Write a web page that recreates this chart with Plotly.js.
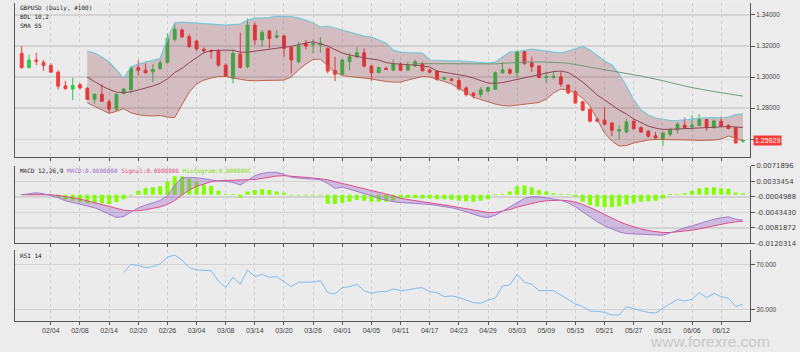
<!DOCTYPE html>
<html>
<head>
<meta charset="utf-8">
<script src="https://cdn.plot.ly/plotly-3.0.1.min.js"></script>
<style>
html,body{margin:0;padding:0;background:#ececec;}
#chart{width:800px;height:352px;}
</style>
</head>
<body>
<div id="chart"></div>
<script>
const dates = ['01/29','01/30','01/31','02/01','02/04','02/05','02/06','02/07','02/08','02/11','02/12','02/13','02/14','02/15','02/18','02/19','02/20','02/21','02/22','02/25','02/26','02/27','02/28','03/01','03/04','03/05','03/06','03/07','03/08','03/11','03/12','03/13','03/14','03/15','03/18','03/19','03/20','03/21','03/22','03/25','03/26','03/27','03/28','03/29','04/01','04/02','04/03','04/04','04/05','04/08','04/09','04/10','04/11','04/12','04/15','04/16','04/17','04/18','04/19','04/22','04/23','04/24','04/25','04/26','04/29','04/30','05/01','05/02','05/03','05/06','05/07','05/08','05/09','05/10','05/13','05/14','05/15','05/16','05/17','05/20','05/21','05/22','05/23','05/24','05/27','05/28','05/29','05/30','05/31','06/03','06/04','06/05','06/06','06/07','06/10','06/11','06/12','06/13','06/14','06/17'];

const tickDates = ['02/04','02/08','02/14','02/20','02/26','03/04','03/08','03/14','03/20','03/26','04/01','04/05','04/11','04/17','04/23','04/29','05/03','05/09','05/15','05/21','05/27','05/31','06/06','06/12'];

const openP = [1.3153,1.3062,1.3110,1.3095,1.3075,1.3032,1.2944,1.2923,1.2951,1.2927,1.2856,1.2890,1.2841,1.2794,1.2895,1.2920,1.3060,1.3045,1.3034,1.3054,1.3095,1.3243,1.3303,1.3260,1.3232,1.3179,1.3172,1.3168,1.3077,1.2991,1.3148,1.3067,1.3335,1.3239,1.3297,1.3256,1.3265,1.3191,1.3099,1.3217,1.3208,1.3208,1.3185,1.3043,1.3019,1.3099,1.3131,1.3157,1.3071,1.3030,1.3056,1.3045,1.3084,1.3045,1.3071,1.3088,1.3045,1.3039,1.2987,1.2987,1.2978,1.2930,1.2896,1.2887,1.2910,1.2922,1.3028,1.3047,1.3028,1.3163,1.3093,1.3071,1.2998,1.2998,1.3002,1.2948,1.2905,1.2841,1.2792,1.2729,1.2723,1.2705,1.2654,1.2647,1.2716,1.2675,1.2652,1.2622,1.2604,1.2632,1.2662,1.2690,1.2680,1.2688,1.2727,1.2675,1.2716,1.2690,1.2675,1.2587];
const highP = [1.3200,1.3146,1.3157,1.3110,1.3088,1.3045,1.2976,1.2996,1.2963,1.2938,1.2895,1.2955,1.2856,1.2895,1.2931,1.3071,1.3110,1.3088,1.3084,1.3110,1.3282,1.3342,1.3314,1.3277,1.3239,1.3191,1.3179,1.3179,1.3088,1.3179,1.3286,1.3378,1.3350,1.3303,1.3303,1.3303,1.3271,1.3196,1.3228,1.3239,1.3243,1.3256,1.3191,1.3131,1.3114,1.3157,1.3191,1.3185,1.3077,1.3067,1.3067,1.3114,1.3095,1.3099,1.3114,1.3099,1.3056,1.3043,1.3000,1.2994,1.2998,1.2940,1.2905,1.2935,1.2940,1.3037,1.3096,1.3059,1.3177,1.3172,1.3131,1.3077,1.3034,1.3041,1.3034,1.2955,1.2916,1.2847,1.2798,1.2740,1.2805,1.2710,1.2690,1.2733,1.2733,1.2684,1.2658,1.2647,1.2645,1.2675,1.2710,1.2740,1.2755,1.2761,1.2731,1.2727,1.2748,1.2697,1.2680,1.2597];
const lowP = [1.3054,1.3054,1.3077,1.3041,1.3028,1.2920,1.2916,1.2852,1.2920,1.2852,1.2830,1.2841,1.2766,1.2781,1.2890,1.2895,1.3011,1.3024,1.2966,1.3049,1.3088,1.3228,1.3249,1.3189,1.3170,1.3153,1.3120,1.3067,1.3002,1.2959,1.3056,1.3056,1.3206,1.3196,1.3185,1.3249,1.3131,1.3024,1.3088,1.3179,1.3153,1.3159,1.3024,1.2974,1.3013,1.3045,1.3120,1.3062,1.2976,1.3024,1.3045,1.3039,1.3041,1.3041,1.3067,1.3037,1.3024,1.2976,1.2983,1.2972,1.2913,1.2875,1.2862,1.2870,1.2902,1.2918,1.3022,1.3015,1.2993,1.3078,1.3034,1.2991,1.2963,1.2985,1.2938,1.2890,1.2830,1.2781,1.2712,1.2710,1.2690,1.2620,1.2598,1.2641,1.2662,1.2641,1.2609,1.2598,1.2555,1.2620,1.2637,1.2669,1.2662,1.2684,1.2654,1.2669,1.2680,1.2665,1.2572,1.2577];
const closeP = [1.3062,1.3110,1.3102,1.3075,1.3032,1.2942,1.2927,1.2946,1.2931,1.2856,1.2890,1.2845,1.2794,1.2890,1.2923,1.3060,1.3045,1.3028,1.3049,1.3092,1.3249,1.3308,1.3260,1.3196,1.3181,1.3170,1.3166,1.3077,1.3006,1.3153,1.3062,1.3335,1.3239,1.3288,1.3249,1.3267,1.3185,1.3110,1.3202,1.3200,1.3217,1.3217,1.3039,1.3019,1.3110,1.3131,1.3157,1.3071,1.3028,1.3062,1.3049,1.3084,1.3045,1.3077,1.3099,1.3041,1.3032,1.2985,1.2996,1.2979,1.2925,1.2887,1.2882,1.2918,1.2933,1.3028,1.3047,1.3026,1.3165,1.3088,1.3067,1.2998,1.3004,1.3006,1.2955,1.2899,1.2834,1.2787,1.2716,1.2716,1.2697,1.2658,1.2662,1.2712,1.2669,1.2647,1.2620,1.2609,1.2641,1.2662,1.2697,1.2675,1.2690,1.2727,1.2675,1.2718,1.2684,1.2669,1.2577,1.25929];

const bolUpper = [null,null,null,null,null,null,null,null,null,1.3168,1.3155,1.3129,1.3097,1.3046,1.2994,1.3065,1.3084,1.3097,1.3107,1.3120,1.3245,1.3350,1.3354,1.3351,1.3345,1.3342,1.3338,1.3335,1.3335,1.3338,1.3342,1.3367,1.3380,1.3380,1.3383,1.3393,1.3393,1.3390,1.3380,1.3367,1.3348,1.3322,1.3329,1.3316,1.3303,1.3290,1.3277,1.3264,1.3258,1.3239,1.3219,1.3174,1.3161,1.3158,1.3155,1.3155,1.3110,1.3107,1.3104,1.3104,1.3104,1.3100,1.3097,1.3094,1.3091,1.3097,1.3129,1.3161,1.3165,1.3174,1.3181,1.3174,1.3168,1.3158,1.3155,1.3168,1.3184,1.3197,1.3174,1.3139,1.3104,1.3078,1.3020,1.2943,1.2853,1.2788,1.2756,1.2737,1.2727,1.2721,1.2721,1.2724,1.2730,1.2737,1.2740,1.2740,1.2737,1.2743,1.2759,1.2763];
const bolMid = [null,null,null,null,null,null,null,null,null,1.2999,1.2970,1.2943,1.2921,1.2904,1.2900,1.2906,1.2917,1.2928,1.2943,1.2960,1.2988,1.3030,1.3057,1.3093,1.3127,1.3157,1.3170,1.3174,1.3174,1.3172,1.3161,1.3161,1.3168,1.3171,1.3179,1.3185,1.3192,1.3198,1.3210,1.3219,1.3228,1.3216,1.3200,1.3177,1.3155,1.3142,1.3132,1.3123,1.3116,1.3110,1.3094,1.3087,1.3082,1.3080,1.3078,1.3071,1.3065,1.3039,1.3031,1.3026,1.3017,1.3007,1.2994,1.2978,1.2962,1.2960,1.2965,1.2975,1.2985,1.2997,1.3007,1.3017,1.3028,1.3036,1.3039,1.3030,1.3001,1.2968,1.2927,1.2885,1.2853,1.2821,1.2788,1.2763,1.2730,1.2708,1.2685,1.2672,1.2664,1.2664,1.2666,1.2668,1.2669,1.2672,1.2676,1.2679,1.2682,1.2682,1.2679,1.2676];
const bolLower = [null,null,null,null,null,null,null,null,null,1.2835,1.2814,1.2788,1.2767,1.2780,1.2797,1.2771,1.2758,1.2752,1.2750,1.2753,1.2743,1.2740,1.2827,1.2904,1.2956,1.2981,1.2994,1.3004,1.3004,1.2994,1.2984,1.2978,1.2977,1.2977,1.2977,1.2978,1.2981,1.3001,1.3046,1.3084,1.3113,1.3116,1.3071,1.3033,1.3010,1.3004,1.3001,1.2994,1.2988,1.2978,1.2972,1.2968,1.2968,1.2981,1.2991,1.3004,1.3001,1.2988,1.2972,1.2956,1.2927,1.2898,1.2872,1.2856,1.2840,1.2827,1.2817,1.2814,1.2820,1.2827,1.2830,1.2837,1.2859,1.2898,1.2923,1.2917,1.2898,1.2865,1.2814,1.2724,1.2640,1.2589,1.2557,1.2560,1.2576,1.2586,1.2595,1.2599,1.2599,1.2599,1.2599,1.2595,1.2595,1.2592,1.2592,1.2595,1.2602,1.2621,1.2608,1.2589];
const sma55 = [null,null,null,null,null,null,null,null,null,null,null,null,null,null,null,null,null,null,null,null,null,null,null,null,null,null,null,null,null,null,null,null,null,null,null,null,null,null,null,null,null,null,null,null,null,null,null,null,null,null,null,null,null,null,1.3087,1.3087,1.3087,1.3087,1.3087,1.3087,1.3087,1.3086,1.3085,1.3084,1.3084,1.3085,1.3089,1.3092,1.3095,1.3097,1.3098,1.3098,1.3097,1.3095,1.3093,1.3089,1.3081,1.3073,1.3065,1.3058,1.3050,1.3042,1.3034,1.3026,1.3017,1.3007,1.2997,1.2988,1.2977,1.2965,1.2952,1.2943,1.2933,1.2923,1.2915,1.2907,1.2900,1.2891,1.2885,1.2878];

const macdLine = [0.00000,0.00026,0.00051,0.00026,-0.00016,-0.00074,-0.00148,-0.00190,-0.00223,-0.00265,-0.00323,-0.00397,-0.00489,-0.00563,-0.00538,-0.00439,-0.00323,-0.00256,-0.00198,-0.00140,-0.00024,0.00241,0.00424,0.00432,0.00424,0.00399,0.00366,0.00341,0.00333,0.00308,0.00241,0.00366,0.00474,0.00532,0.00557,0.00557,0.00507,0.00432,0.00407,0.00399,0.00391,0.00374,0.00283,0.00158,0.00192,0.00142,0.00092,0.00034,-0.00024,-0.00090,-0.00140,-0.00173,-0.00190,-0.00198,-0.00207,-0.00223,-0.00240,-0.00265,-0.00289,-0.00323,-0.00364,-0.00422,-0.00489,-0.00538,-0.00563,-0.00505,-0.00406,-0.00306,-0.00190,-0.00090,-0.00049,-0.00049,-0.00074,-0.00099,-0.00140,-0.00198,-0.00298,-0.00422,-0.00547,-0.00671,-0.00770,-0.00853,-0.00920,-0.00961,-0.00969,-0.00978,-0.00994,-0.01011,-0.01003,-0.00945,-0.00878,-0.00820,-0.00770,-0.00712,-0.00654,-0.00605,-0.00571,-0.00547,-0.00605,-0.00629];
const signalLine = [0.00000,0.00001,0.00009,0.00009,0.00001,-0.00016,-0.00041,-0.00074,-0.00107,-0.00148,-0.00198,-0.00240,-0.00289,-0.00339,-0.00381,-0.00397,-0.00397,-0.00372,-0.00339,-0.00298,-0.00240,-0.00140,-0.00008,0.00117,0.00208,0.00275,0.00324,0.00349,0.00357,0.00357,0.00357,0.00366,0.00382,0.00407,0.00440,0.00465,0.00474,0.00465,0.00449,0.00432,0.00416,0.00399,0.00374,0.00324,0.00283,0.00241,0.00200,0.00158,0.00117,0.00067,0.00017,-0.00024,-0.00090,-0.00115,-0.00140,-0.00165,-0.00190,-0.00223,-0.00256,-0.00281,-0.00314,-0.00348,-0.00381,-0.00414,-0.00439,-0.00439,-0.00406,-0.00364,-0.00306,-0.00256,-0.00215,-0.00173,-0.00148,-0.00132,-0.00132,-0.00148,-0.00182,-0.00240,-0.00314,-0.00397,-0.00489,-0.00580,-0.00663,-0.00737,-0.00795,-0.00845,-0.00887,-0.00920,-0.00936,-0.00936,-0.00920,-0.00903,-0.00878,-0.00845,-0.00804,-0.00770,-0.00729,-0.00696,-0.00671,-0.00654];
const histogram = [0.0002,0.0002,0.0002,0.0002,-0.0002,-0.0008,-0.0012,-0.0015,-0.0018,-0.0021,-0.0021,-0.0021,-0.0023,-0.0018,-0.0011,-0.0002,0.0010,0.0017,0.0019,0.0021,0.0033,0.0046,0.0046,0.0040,0.0033,0.0025,0.0022,0.0010,0.0002,0.0002,-0.0007,0.0008,0.0012,0.0014,0.0012,0.0008,0.0005,-0.0002,-0.0002,-0.0002,-0.0002,-0.0002,-0.0022,-0.0023,-0.0020,-0.0017,-0.0013,-0.0015,-0.0017,-0.0017,-0.0017,-0.0015,-0.0010,-0.0008,-0.0008,-0.0009,-0.0009,-0.0011,-0.0011,-0.0012,-0.0015,-0.0016,-0.0017,-0.0015,-0.0011,0.0002,0.0002,0.0008,0.0021,0.0023,0.0019,0.0012,0.0008,0.0004,0.0002,0.0002,-0.0004,-0.0017,-0.0025,-0.0029,-0.0031,-0.0031,-0.0029,-0.0024,-0.0021,-0.0017,-0.0016,-0.0015,-0.0009,0.0002,0.0002,0.0004,0.0010,0.0016,0.0018,0.0019,0.0016,0.0015,0.0006,0.0004];

const rsi14 = [null,null,null,null,null,null,null,null,null,null,null,null,null,null,62.9,70.0,68.8,67.0,67.9,70.3,76.2,78.2,73.8,67.0,65.0,64.7,64.4,55.2,49.6,58.5,52.3,65.0,59.1,61.1,58.5,59.1,54.6,50.2,54.1,54.1,54.3,55.5,44.9,43.7,49.3,50.2,52.3,46.7,44.3,45.8,45.8,48.2,46.7,47.3,48.7,49.3,45.8,44.9,41.4,42.0,40.8,38.4,36.1,35.6,38.4,40.0,50.8,51.7,61.1,54.1,52.3,46.7,46.7,46.7,42.9,39.0,35.0,32.6,28.7,28.4,27.5,25.2,25.2,32.6,30.5,29.0,27.5,26.9,31.1,34.7,39.0,37.6,39.0,44.9,40.5,44.3,41.4,40.0,32.6,34.7];

const priceTicks = [1.26, 1.28, 1.30, 1.32, 1.34];
const macdTicks = [0.0071896, 0.0033454, -0.0004988, -0.0043430, -0.0081872, -0.0120314];
const rsiTicks = [30, 70];
const lastPrice = 1.25929;

const tickFont = {family: 'Liberation Sans, Arial, sans-serif', size: 6.5, color: '#444'};
const xTickFont = {family: 'Liberation Sans, Arial, sans-serif', size: 7, color: '#444'};
const macdTickFont = {family: 'DejaVu Sans, sans-serif', size: 6.9, color: '#444'};
const gridCol = '#d3d3d3';
const vgridCol = '#cdcdcd';
const axisCol = '#555';

const traces = [
  {x: dates, y: bolLower, type: 'scatter', mode: 'lines', line: {color: '#c0644e', width: 1}, xaxis: 'x', yaxis: 'y', hoverinfo: 'skip'},
  {x: dates, y: bolUpper, type: 'scatter', mode: 'lines', line: {color: '#78c8d8', width: 1.2}, fill: 'tonexty', fillcolor: 'rgba(140,40,60,0.24)', xaxis: 'x', yaxis: 'y', hoverinfo: 'skip'},
  {x: dates, y: bolMid, type: 'scatter', mode: 'lines', line: {color: '#904556', width: 1}, xaxis: 'x', yaxis: 'y', hoverinfo: 'skip'},
  {x: dates, y: sma55, type: 'scatter', mode: 'lines', line: {color: '#6f9a78', width: 1}, xaxis: 'x', yaxis: 'y', hoverinfo: 'skip'},
  {x: dates, open: openP, high: highP, low: lowP, close: closeP, type: 'candlestick', xaxis: 'x', yaxis: 'y',
   whiskerwidth: 0,
   increasing: {line: {color: '#33c84a', width: 1}, fillcolor: '#33c84a'},
   decreasing: {line: {color: '#f23b3b', width: 1}, fillcolor: '#f23b3b'}},
  {x: dates, y: histogram, type: 'bar', marker: {color: '#80ff00'}, width: 0.55, xaxis: 'x2', yaxis: 'y2', hoverinfo: 'skip'},
  {x: dates, y: signalLine, type: 'scatter', mode: 'lines', line: {color: '#e64a86', width: 1}, xaxis: 'x2', yaxis: 'y2', hoverinfo: 'skip'},
  {x: dates, y: macdLine, type: 'scatter', mode: 'lines', line: {color: '#a27ad0', width: 1}, fill: 'tonexty', fillcolor: 'rgba(150,100,200,0.35)', xaxis: 'x2', yaxis: 'y2', hoverinfo: 'skip'},
  {x: dates, y: rsi14, type: 'scatter', mode: 'lines', line: {color: '#7dbcf5', width: 1}, xaxis: 'x3', yaxis: 'y3', hoverinfo: 'skip'}
];

function xax(anchor, labels) {
  return {
    type: 'category', anchor: anchor, range: [-0.92, 99.96],
    tickmode: 'array', tickvals: tickDates, ticktext: tickDates,
    showticklabels: labels, ticks: 'outside', ticklen: 3, tickcolor: axisCol,
    showgrid: true, gridcolor: vgridCol, griddash: 'dot', gridwidth: 1,
    showline: true, linecolor: axisCol, linewidth: 1,
    tickfont: xTickFont, rangeslider: {visible: false}, fixedrange: true
  };
}
function yax(domain, range, tickvals, ticktext, font) {
  return {
    domain: domain, range: range, side: 'right',
    tickmode: 'array', tickvals: tickvals, ticktext: ticktext,
    ticks: 'outside', ticklen: 4, tickcolor: axisCol,
    showgrid: true, gridcolor: gridCol, gridwidth: 1.5,
    showline: true, mirror: true, linecolor: axisCol, linewidth: 1,
    zeroline: false, tickfont: font, fixedrange: true
  };
}

const xa1 = xax('y', false);
const xa2 = xax('y2', false); xa2.matches = 'x';
const xa3 = xax('y3', true); xa3.matches = 'x';

const legendFont = {family: 'DejaVu Sans Mono, monospace', size: 6, color: '#222'};

const layout = {
  width: 800, height: 352,
  margin: {l: 15, r: 50, t: 3, b: 31},
  paper_bgcolor: '#ececec', plot_bgcolor: '#ebebeb',
  showlegend: false, bargap: 0.4, boxgap: 0.45,
  xaxis: xa1, xaxis2: xa2, xaxis3: xa3,
  yaxis: yax([0.5157, 1], [1.2486, 1.3477], priceTicks, priceTicks.map(v => v.toFixed(5)), tickFont),
  yaxis2: yax([0.2443, 0.4880], [-0.0120314, 0.0071896], macdTicks, macdTicks.map(v => v.toFixed(7)), macdTickFont),
  yaxis3: yax([0, 0.2233], [19.9, 82.6], rsiTicks, rsiTicks.map(v => v.toFixed(3)), tickFont),
  annotations: [
    {text: 'GBPUSD (Daily, #100)', xref: 'paper', yref: 'paper', x: 0.004, y: 0.983, xanchor: 'left', yanchor: 'middle', showarrow: false, font: legendFont},
    {text: 'BOL 10,2', xref: 'paper', yref: 'paper', x: 0.004, y: 0.956, xanchor: 'left', yanchor: 'middle', showarrow: false, font: legendFont},
    {text: 'SMA 55', xref: 'paper', yref: 'paper', x: 0.004, y: 0.929, xanchor: 'left', yanchor: 'middle', showarrow: false, font: legendFont},
    {text: 'MACD 12,26,9 <span style="color:#9a6cd0">MACD:0.0000000</span> <span style="color:#e64a86">Signal:0.0000000</span> <span style="color:#7ee000">Histogram:0.000000C</span>', xref: 'paper', yref: 'paper', x: 0.004, y: 0.4717, xanchor: 'left', yanchor: 'middle', showarrow: false, font: legendFont},
    {text: 'RSI 14', xref: 'paper', yref: 'paper', x: 0.004, y: 0.2075, xanchor: 'left', yanchor: 'middle', showarrow: false, font: legendFont},
    {text: lastPrice.toFixed(5), xref: 'paper', yref: 'y', x: 1.004, y: lastPrice, xanchor: 'left', yanchor: 'middle', showarrow: false, bgcolor: '#f53a3a', borderpad: 1, font: {family: 'Liberation Sans, Arial, sans-serif', size: 7, color: '#ffffff'}},
    {text: 'www.forexre.com', xref: 'paper', yref: 'paper', x: 0.946, y: -0.0645, xanchor: 'center', yanchor: 'middle', showarrow: false, font: {family: 'Liberation Sans, Arial, sans-serif', size: 15.5, color: '#c8c8c8'}}
  ]
};

Plotly.newPlot('chart', traces, layout, {displayModeBar: false, staticPlot: true});
</script>
</body>
</html>
